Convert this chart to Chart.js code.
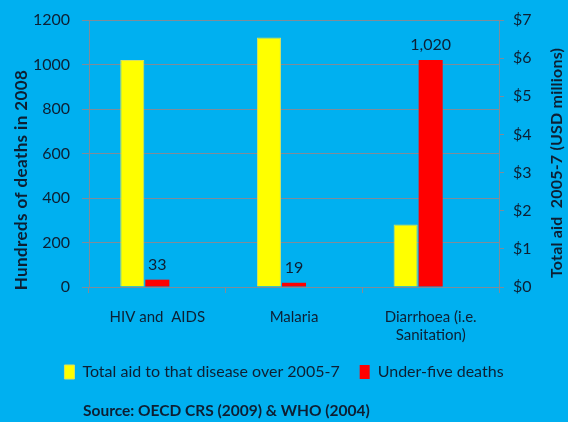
<!DOCTYPE html>
<html>
<head>
	<script type="text/javascript" src="https://cdn.jsdelivr.net/npm/chart.js@4"></script>
	<style>
		body { margin: 0; background: #00B0F0; }
		#wrap { position: absolute; top: 0; left: 0; width: 568px; height: 422px; background: #00B0F0; }
		#source { position: absolute; left: 83px; top: 401px; font: bold 15.5px Lato, sans-serif; color: #0d1f33; }
	</style>
</head>
<body>
	<div id="wrap">
		<canvas id="chartAid" width="568" height="422"></canvas>
		<div id="source">Source: OECD CRS (2009) &amp; WHO (2004)</div>
	</div>

	<script type="text/javascript">
		var diseases = ['HIV and  AIDS', 'Malaria', ['Diarrhoea (i.e.', 'Sanitation)']];
		var aidUsdMillions = [5.95, 6.54, 1.64];   // right axis
		var underFiveDeaths = [33, 19, 1020];      // left axis, hundreds
		var emptySeries = [null, null, null];      // empty third slot, as in the original (pushes the pairs left)
		var deathTicks = [0, 200, 400, 600, 800, 1000, 1200];
		var aidTicks = [0, 1, 2, 3, 4, 5, 6, 7];
		var leftTitle = 'Hundreds of deaths in 2008';
		var rightTitle = 'Total aid  2005-7 (USD millions)';

		var textColor = '#0d1f33';
		var gridColor = '#7f8c99';

		// numbers over the red bars + both axis titles reading bottom-to-top
		var extras = {
			id: 'extras',
			afterDatasetsDraw: function(chart) {
				var ctx = chart.ctx;
				var meta = chart.getDatasetMeta(1);
				ctx.save();
				ctx.font = '16px Lato, sans-serif';
				ctx.fillStyle = textColor;
				ctx.textAlign = 'center';
				ctx.textBaseline = 'bottom';
				meta.data.forEach(function(bar, i) {
					ctx.fillText(underFiveDeaths[i].toLocaleString('en-US'), bar.x, bar.y - 7);
				});
				ctx.restore();

				ctx.save();
				ctx.fillStyle = textColor;
				ctx.textAlign = 'center';
				ctx.textBaseline = 'middle';
				ctx.font = 'bold 17px Lato, sans-serif';
				ctx.letterSpacing = '0.4px';
				ctx.translate(22, 180);
				ctx.rotate(-Math.PI / 2);
				ctx.fillText(leftTitle, 0, 0);
				ctx.restore();

				ctx.save();
				ctx.fillStyle = textColor;
				ctx.textAlign = 'center';
				ctx.textBaseline = 'middle';
				ctx.font = 'bold 16px Lato, sans-serif';
				ctx.letterSpacing = '0.2px';
				ctx.translate(557, 163);
				ctx.rotate(-Math.PI / 2);
				ctx.fillText(rightTitle, 0, 0);
				ctx.restore();
			}
		};

		var ctx = document.getElementById('chartAid').getContext('2d');
		var chart = new Chart(ctx, {
			type: 'bar',
			data: {
				labels: diseases,
				datasets: [{
					label: 'Total aid to that disease over 2005-7',
					data: aidUsdMillions,
					backgroundColor: '#FFFF00',
					borderColor: '#d8e060',
					borderWidth: 1,
					yAxisID: 'yAid',
					categoryPercentage: 0.55,
					barPercentage: 0.96
				}, {
					label: 'Under-five deaths',
					data: underFiveDeaths,
					backgroundColor: '#FF0000',
					yAxisID: 'yDeaths',
					categoryPercentage: 0.55,
					barPercentage: 0.96
				}, {
					label: '',
					data: emptySeries,
					yAxisID: 'yDeaths',
					categoryPercentage: 0.55,
					barPercentage: 0.96
				}]
			},
			options: {
				responsive: false,
				animation: false,
				layout: { padding: { top: 19, left: 0, right: 0, bottom: 32 } },
				plugins: {
					legend: {
						position: 'bottom',
						labels: {
							boxWidth: 10, boxHeight: 14, color: textColor,
							font: { family: 'Lato', size: 16 }, padding: 20,
							filter: function(item) { return item.datasetIndex < 2; }
						}
					},
					tooltip: { enabled: false }
				},
				scales: {
					x: {
						grid: { display: true, drawOnChartArea: false, color: gridColor, tickLength: 6, offset: true },
						border: { color: gridColor },
						ticks: { color: textColor, font: { family: 'Lato', size: 15 }, padding: 15 },
						afterFit: function(axis) { axis.height = axis.height - 15; }
					},
					yDeaths: {
						position: 'left',
						min: 0, max: 1200,
						afterBuildTicks: function(axis) { axis.ticks = deathTicks.map(function(v) { return { value: v }; }); },
						afterFit: function(axis) { axis.width = 89; },
						grid: { color: gridColor, tickLength: 7 },
						border: { color: gridColor },
						ticks: { color: textColor, font: { family: 'Lato', size: 16, lineHeight: 1 }, padding: 12, callback: function(v) { return String(v); } },
					},
					yAid: {
						position: 'right',
						min: 0, max: 7,
						afterBuildTicks: function(axis) { axis.ticks = aidTicks.map(function(v) { return { value: v }; }); },
						afterFit: function(axis) { axis.width = 69; },
						grid: { drawOnChartArea: false, color: gridColor, tickLength: 5 },
						border: { color: gridColor },
						ticks: { color: textColor, font: { family: 'Lato', size: 16, lineHeight: 1 }, padding: 9, callback: function(v) { return '$' + v; } }
					}
				}
			},
			plugins: [extras]
		});
	</script>
</body>
</html>
